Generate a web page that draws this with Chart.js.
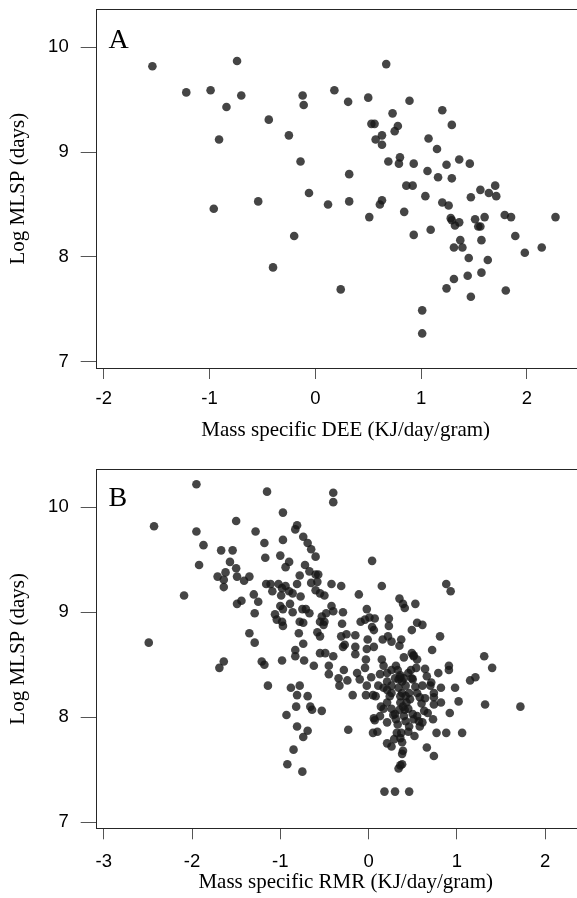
<!DOCTYPE html>
<html><head><meta charset="utf-8">
<script src="https://cdn.jsdelivr.net/npm/chart.js@4/dist/chart.umd.min.js"></script>
<style>
html,body{margin:0;padding:0;background:#fff;overflow:hidden;width:577px;height:898px;}
.wrap{position:absolute;left:0;width:600px;height:449px;}
canvas{display:block;}
</style></head><body>
<div class="wrap" style="top:0"><canvas id="cA" width="600" height="449"></canvas></div>
<div class="wrap" style="top:449px"><canvas id="cB" width="600" height="449"></canvas></div>
<script>
// Panel A: Mass specific DEE vs Log MLSP
const deeA = [-1.54,-1.22,-0.99,-0.74,-0.70,-0.84,-0.91,-0.96,-0.44,-0.54,-0.25,-0.12,-0.11,-0.14,-0.06,-0.20,-0.40,0.18,0.31,0.32,
0.32,0.12,0.24,0.50,0.67,0.53,0.56,0.63,0.57,0.63,0.73,0.78,0.75,0.89,0.69,0.80,0.79,0.93,0.86,0.92,
0.84,0.63,0.61,0.51,0.93,1.07,1.15,1.06,1.16,1.04,1.09,1.01,1.01,1.20,1.29,1.24,1.29,1.36,1.46,1.20,
1.26,1.28,1.29,1.32,1.36,1.37,1.31,1.39,1.24,1.31,1.45,1.44,1.47,1.47,1.51,1.56,1.54,1.56,1.57,1.60,
1.63,1.57,1.64,1.70,1.71,1.79,1.85,1.89,1.98,1.80,2.14,2.27];
const mlspA = [9.82,9.57,9.59,9.87,9.54,9.43,9.12,8.46,9.31,8.53,9.16,9.54,9.45,8.91,8.61,8.20,7.90,9.59,9.48,8.79,
8.53,8.50,7.69,9.52,9.84,9.27,9.27,9.16,9.12,9.07,9.37,9.25,9.20,9.49,8.91,8.95,8.89,8.89,8.68,8.68,
8.43,8.54,8.50,8.38,8.21,9.13,9.03,8.82,8.76,8.58,8.26,7.49,7.27,9.40,9.26,8.88,8.75,8.93,8.89,8.52,
8.49,8.37,8.35,8.30,8.33,8.16,8.09,8.09,7.70,7.79,7.99,7.82,7.62,8.57,8.36,8.64,8.29,8.29,8.16,8.38,
7.97,7.85,8.61,8.68,8.58,8.40,8.38,8.20,8.04,7.68,8.09,8.38];

// Panel B: Mass specific RMR vs Log MLSP
const rmrB = [-2.43,-2.49,-2.09,-1.95,-1.95,-1.92,-1.87,-1.67,-1.54,-1.57,-1.50,-1.50,-1.71,-1.62,-1.64,-1.64,-1.49,-1.41,-1.35,-1.49,
-1.44,-1.69,-1.64,-1.35,-1.29,-1.28,-1.30,-1.25,-1.29,-1.18,-1.17,-1.15,-0.97,-0.97,-1.00,-0.90,-0.94,-0.81,-0.83,-0.74,
-0.69,-0.65,-0.60,-0.72,-0.78,-0.67,-0.57,-0.65,-0.58,-0.60,-0.55,-0.50,-0.42,-0.31,-1.16,-1.11,-1.09,-1.02,-0.98,-0.99,
-0.90,-0.86,-0.81,-0.77,-0.94,-1.00,-0.97,-0.89,-1.06,-1.04,-0.98,-0.97,-0.86,-0.75,-0.71,-0.67,-0.74,-0.78,-0.79,-0.74,
-0.83,-0.83,-0.73,-0.98,-0.62,-0.55,-0.50,-0.53,-0.51,-0.55,-0.48,-0.42,-0.40,-0.29,-0.30,-0.25,-0.27,-0.15,-0.15,-0.58,
-0.55,-0.49,-0.40,-1.21,-1.18,-1.14,-0.88,-0.78,-0.45,-0.45,-0.28,-0.34,-0.33,-0.24,-0.18,-0.93,-0.81,-0.82,-0.81,-0.69,
-0.74,-0.69,-0.66,-0.64,-0.53,-0.85,-0.92,-0.75,-0.23,-0.40,-0.40,-0.60,-0.31,-0.29,
0.04,0.15,-0.11,-0.02,-0.09,-0.04,0.01,0.07,0.04,0.06,-0.01,0.06,-0.02,0.16,0.22,0.26,0.23,0.23,0.37,0.35,
0.35,0.39,0.41,0.53,0.49,0.55,0.61,0.49,0.51,0.40,0.72,0.81,0.88,0.93,1.31,1.40,1.15,1.21,1.32,1.72,
0.98,1.02,0.92,0.88,1.06,0.77,0.74,0.66,0.82,0.82,0.79,0.91,0.91,0.64,0.66,0.71,0.74,0.74,0.74,0.73,
0.61,0.58,0.55,0.52,0.45,0.46,
-0.03,-0.04,-0.13,-0.10,-0.03,0.05,0.03,0.11,0.15,0.17,0.21,0.21,0.21,0.26,0.26,0.31,0.30,0.34,0.36,0.38,
0.40,0.38,0.36,0.39,0.40,0.41,0.42,0.46,0.47,0.48,0.50,0.53,0.55,0.58,0.60,0.61,0.64,0.14,0.17,0.26,
0.30,0.31,0.33,0.28,0.06,0.07,0.05,0.10,0.21,0.21,0.26,0.29,0.32,0.36,0.38,0.39,0.38,0.36,0.34,0.38,
0.18,0.30,0.46,0.13,0.45,0.50,0.51,0.42,0.57,0.37,0.24,0.42,0.45,0.49,0.54,0.55,0.51,0.34,0.36,0.17,
0.13,0.08,0.21,0.35,0.36,0.43,0.33,0.67,0.63,0.70,0.26,-0.02,-0.15];
const mlspB = [9.82,8.71,9.16,10.22,9.77,9.45,9.64,9.59,9.59,9.48,9.87,9.42,9.34,9.38,9.31,9.24,9.34,9.30,9.34,9.08,
9.11,8.47,8.53,8.80,8.71,9.77,9.17,9.10,8.99,9.66,9.52,10.15,9.95,9.69,9.54,9.48,9.43,9.83,9.79,9.72,
9.66,9.60,9.53,9.45,9.35,9.39,9.36,9.28,9.29,9.21,9.18,9.16,9.27,9.25,9.27,9.27,9.20,9.27,9.23,9.16,
9.20,9.18,9.27,9.15,9.25,9.06,9.03,9.08,8.98,8.93,8.91,8.87,9.00,9.03,9.03,8.99,8.90,8.91,8.80,8.70,
8.64,8.58,8.54,8.54,8.49,8.61,8.91,8.96,8.88,8.91,8.99,9.06,9.01,9.00,8.89,8.79,8.69,8.67,8.60,8.81,
8.77,8.61,8.58,8.53,8.50,8.30,8.28,8.30,8.49,8.41,8.45,8.37,8.30,8.35,8.21,8.02,8.21,8.10,7.91,7.87,
7.81,8.20,8.10,8.07,8.06,7.69,7.55,7.48,7.88,10.14,10.05,9.36,8.77,8.67,
9.49,9.25,9.17,9.03,8.91,8.93,8.95,8.94,8.86,8.83,8.74,8.67,8.65,8.74,8.77,8.72,8.87,8.94,8.74,8.68,
9.13,9.08,9.04,9.08,8.83,8.90,8.88,8.61,8.58,8.57,8.64,8.77,9.27,9.20,8.58,8.47,8.35,8.38,8.12,8.10,
8.28,8.15,8.04,7.85,7.85,7.85,7.63,7.71,8.14,8.28,8.42,8.49,8.45,8.46,8.39,8.33,8.23,8.19,8.12,7.98,
7.95,7.91,8.01,7.82,7.86,7.91,
8.55,8.47,8.42,8.36,8.21,8.21,8.38,8.30,8.55,8.49,8.42,8.34,8.26,8.23,8.45,8.49,8.37,8.36,8.38,8.34,
8.37,8.23,8.14,8.10,8.01,8.07,8.20,8.23,8.17,8.45,8.36,8.29,8.23,8.19,8.13,8.30,8.18,8.10,8.08,8.08,
8.03,7.98,7.93,8.02,7.99,7.97,7.85,7.86,7.95,7.75,7.72,7.79,7.85,7.80,7.76,7.68,7.65,7.54,7.51,7.55,
7.29,7.29,7.29,8.01,8.08,8.03,7.98,7.96,7.96,7.85,8.20,8.30,8.42,8.37,8.47,8.55,8.59,8.28,8.40,8.28,
8.41,8.20,8.14,8.07,8.20,8.14,8.45,8.04,8.06,8.30,8.30,8.30,8.78];

const xTicksA = [-2,-1,0,1,2];
const xTicksB = [-3,-2,-1,0,1,2];
const yTicks = [7,8,9,10];

const framePlugin = {
  id: 'frame',
  afterDraw(chart, args, opts) {
    const {ctx, chartArea: a} = chart;
    ctx.save();
    ctx.strokeStyle = '#262626';
    ctx.lineWidth = 1;
    ctx.strokeRect(Math.round(a.left) + 0.5, Math.round(a.top) + 0.5,
                   Math.round(a.right - a.left), Math.round(a.bottom - a.top));
    ctx.font = '28px "Liberation Serif", "Times New Roman", serif';
    ctx.fillStyle = '#000';
    ctx.textBaseline = 'alphabetic';
    ctx.textAlign = 'left';
    ctx.fillText(opts.label, opts.lx, opts.ly);
    ctx.restore();
  }
};

const sans = '"Liberation Sans", Arial, Helvetica, sans-serif';
const serif = '"Liberation Serif", "Times New Roman", serif';

function makeChart(id, xs, ys, xt, cfg) {
  const n = Math.min(xs.length, ys.length);
  const pts = [];
  for (let i = 0; i < n; i++) pts.push({x: xs[i], y: ys[i]});
  return new Chart(document.getElementById(id), {
    type: 'scatter',
    data: {datasets: [{
      data: pts,
      pointRadius: 4.3,
      pointHoverRadius: 4.3,
      pointBackgroundColor: 'rgba(22,22,22,0.8)',
      pointBorderWidth: 0
    }]},
    options: {
      responsive: false,
      animation: false,
      events: [],
      layout: {padding: {top: cfg.top, left: 0, right: 0, bottom: 0}},
      plugins: {
        legend: {display: false},
        tooltip: {enabled: false},
        frame: {label: cfg.label, lx: 108.6, ly: cfg.ly}
      },
      scales: {
        x: {
          type: 'linear', position: 'bottom', min: cfg.xmin, max: cfg.xmax,
          afterBuildTicks: s => { s.ticks = xt.map(v => ({value: v})); },
          afterFit: s => { s.height = cfg.xh; s.paddingLeft = 0; s.paddingRight = 0; s.paddingTop = 0; s.paddingBottom = 0; },
          grid: {drawOnChartArea: false, drawTicks: true, tickLength: 11, color: '#555', lineWidth: 1},
          border: {display: false},
          ticks: {autoSkip: false, maxRotation: 0, minRotation: 0, padding: cfg.xpad, color: '#000',
                  font: {family: sans, size: 18.5}},
          title: {display: true, text: cfg.xtitle, color: '#000',
                  font: {family: serif, size: 21, lineHeight: 1.2},
                  padding: {top: 0, bottom: cfg.tpb}}
        },
        y: {
          type: 'linear', position: 'left', min: 6.94, max: 10.363,
          afterBuildTicks: s => { s.ticks = yTicks.map(v => ({value: v})); },
          afterFit: s => { s.width = 95.7; s.paddingTop = 0; s.paddingBottom = 0; s.paddingLeft = 0; s.paddingRight = 0; },
          grid: {drawOnChartArea: false, drawTicks: true, tickLength: 15, color: '#555', lineWidth: 1},
          border: {display: false},
          ticks: {autoSkip: false, padding: 12, color: '#000', font: {family: sans, size: 18.5}},
          title: {display: true, text: 'Log MLSP (days)', color: '#000',
                  font: {family: serif, size: 21, lineHeight: 1.2},
                  padding: {top: 6, bottom: 0}}
        }
      }
    },
    plugins: [framePlugin]
  });
}

makeChart('cA', deeA, mlspA, xTicksA, {
  top: 9.3, xh: 81, xpad: 9.1, tpb: 5.5, label: 'A', ly: 48.3,
  xmin: -2.076, xmax: 2.650, xtitle: 'Mass specific DEE (KJ/day/gram)'
});
makeChart('cB', rmrB, mlspB, xTicksB, {
  top: 20.3, xh: 69.7, xpad: 11.6, tpb: 2.5, label: 'B', ly: 56.7,
  xmin: -3.091, xmax: 2.573, xtitle: 'Mass specific RMR (KJ/day/gram)'
});
</script>
</body></html>
